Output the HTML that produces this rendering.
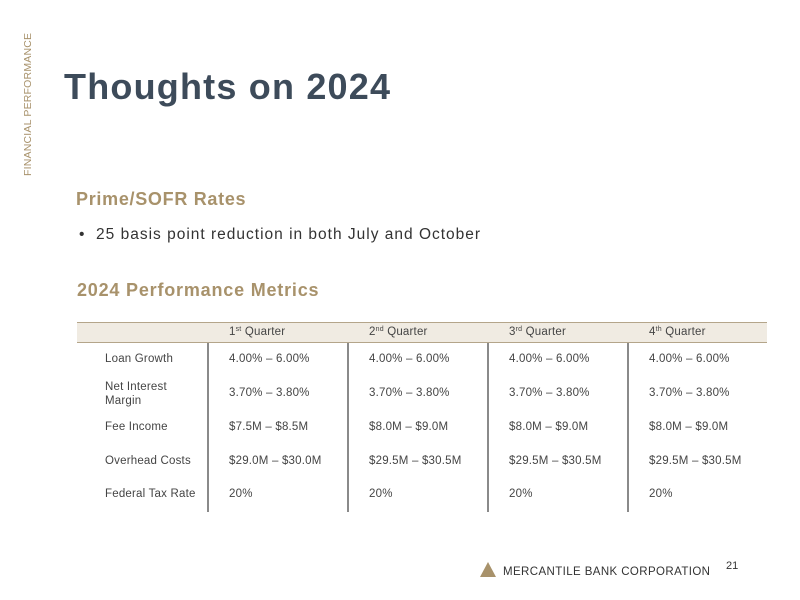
<!DOCTYPE html>
<html><head><meta charset="utf-8"><style>
body{margin:0;width:800px;height:600px;background:#fff;position:relative;overflow:hidden;font-family:"Liberation Sans",sans-serif}
.a{position:absolute;white-space:nowrap}
.t{font-size:11.5px;color:#444;letter-spacing:0.2px}
sup{font-size:7px;vertical-align:4px}
.vd{position:absolute;top:343px;width:2px;height:169px;background:#8a8a8a}
</style></head><body>
<div class="a" style="left:22px;top:176px;transform-origin:0 0;transform:rotate(-90deg);font-size:10.5px;color:#a8926b;letter-spacing:0.2px">FINANCIAL PERFORMANCE</div>
<div class="a" style="left:64px;top:66px;font-size:36px;font-weight:bold;color:#3d4b5a;letter-spacing:1.2px">Thoughts on 2024</div>
<div class="a" style="left:76px;top:189px;font-size:18px;font-weight:bold;color:#a8926b;letter-spacing:0.7px">Prime/SOFR Rates</div>
<div class="a" style="left:79px;top:226px;font-size:15.5px;color:#333;letter-spacing:1px">•&nbsp;&nbsp;25 basis point reduction in both July and October</div>
<div class="a" style="left:77px;top:280px;font-size:18px;font-weight:bold;color:#a8926b;letter-spacing:0.8px">2024 Performance Metrics</div>
<div class="a" style="left:77px;top:322px;width:690px;height:19px;background:#f0ebe2;border-top:1px solid #b4a58a;border-bottom:1px solid #b4a58a"></div>
<div class="a t" style="left:229px;top:326px">1<sup>st</sup> Quarter</div>
<div class="a t" style="left:369px;top:326px">2<sup>nd</sup> Quarter</div>
<div class="a t" style="left:509px;top:326px">3<sup>rd</sup> Quarter</div>
<div class="a t" style="left:649px;top:326px">4<sup>th</sup> Quarter</div>
<div class="vd" style="left:207px"></div>
<div class="vd" style="left:347px"></div>
<div class="vd" style="left:487px"></div>
<div class="vd" style="left:627px"></div>
<div class="a t" style="left:105px;top:353px">Loan Growth</div>
<div class="a t" style="left:105px;top:380px;line-height:14px">Net Interest<br>Margin</div>
<div class="a t" style="left:105px;top:421px">Fee Income</div>
<div class="a t" style="left:105px;top:455px">Overhead Costs</div>
<div class="a t" style="left:105px;top:488px">Federal Tax Rate</div>
<div id="cells"></div>
<div class="a" style="left:480px;top:562px;width:0;height:0;border-left:8px solid transparent;border-right:8px solid transparent;border-bottom:15px solid #a8926b"></div>
<div class="a" style="left:503px;top:566px;font-size:11.5px;color:#333;letter-spacing:0.4px">MERCANTILE BANK CORPORATION</div>
<div class="a" style="left:726px;top:560px;font-size:11px;color:#333">21</div>
<script>
const rowsY=[353,387,421,455,488];
const values=[
["4.00% – 6.00%","4.00% – 6.00%","4.00% – 6.00%","4.00% – 6.00%"],
["3.70% – 3.80%","3.70% – 3.80%","3.70% – 3.80%","3.70% – 3.80%"],
["$7.5M – $8.5M","$8.0M – $9.0M","$8.0M – $9.0M","$8.0M – $9.0M"],
["$29.0M – $30.0M","$29.5M – $30.5M","$29.5M – $30.5M","$29.5M – $30.5M"],
["20%","20%","20%","20%"]];
const c=document.getElementById('cells');
values.forEach((r,i)=>r.forEach((v,j)=>{
const d=document.createElement('div');
d.className='a t';
d.style.left=(229+140*j)+'px';d.style.top=rowsY[i]+'px';
d.textContent=v;


c.appendChild(d);}));
</script>
</body></html>
